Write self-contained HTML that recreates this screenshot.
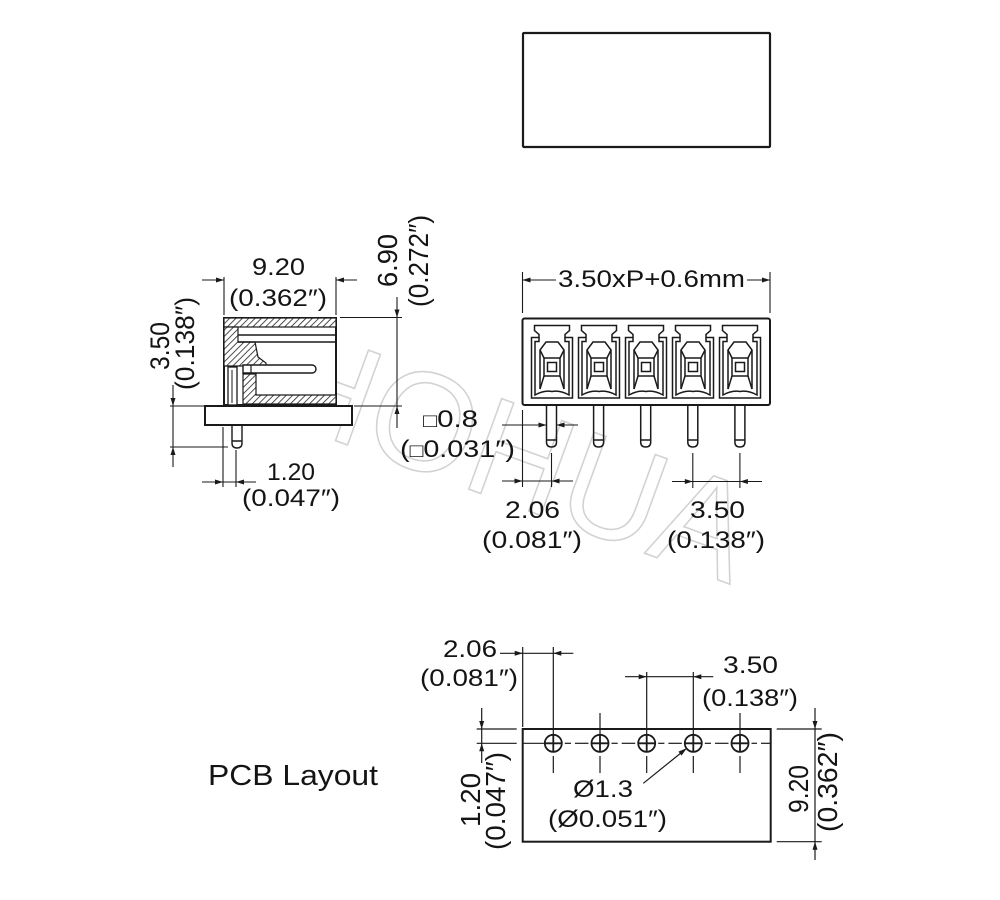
<!DOCTYPE html>
<html>
<head>
<meta charset="utf-8">
<style>
html,body{margin:0;padding:0;background:#fff;}
svg{display:block;}
.t{font-family:"Liberation Sans","DejaVu Sans",Arial,sans-serif;font-size:24px;fill:#141414;}
</style>
</head>
<body>
<svg width="1000" height="900" viewBox="0 0 1000 900" xmlns="http://www.w3.org/2000/svg">
<defs>
  <pattern id="hat" width="4.5" height="4.5" patternUnits="userSpaceOnUse" patternTransform="rotate(45)">
    <rect width="4.5" height="4.5" fill="#fff"/>
    <line x1="0" y1="0" x2="0" y2="4.5" stroke="#222" stroke-width="1.6"/>
  </pattern>
  <g id="cell" fill="none" stroke="#1a1a1a" stroke-width="1.5">
    <path d="M-20.5,398 L-20.5,337.5 L-13,337.5 L-13,334.5 L-17.5,330.5 L-17.5,325.5 L17.5,325.5 L17.5,330.5 L13,334.5 L13,337.5 L20.5,337.5 L20.5,398 Z"/>
    <path d="M-13,337.5 L-13,341.5 L-17,341.5 L-17,395 Q-8,390 0,391.5 Q8,390 17,395 L17,341.5 L13,341.5 L13,337.5"/>
    <path d="M-12,389 L-12,350 L-6,342 L6,342 L12,350 L12,389"/>
    <rect x="-8" y="358" width="16" height="18"/>
    <rect x="-4.5" y="362.5" width="9" height="9"/>
    <path d="M-12,350 L-8,358 M12,350 L8,358 M-12,389 L-8,376 M12,389 L8,376"/>
  </g>
  <path id="pin" d="M-5,405 L-5,442 Q-5,447 0,447 Q5,447 5,442 L5,405 M-5,440 L5,440" fill="none" stroke="#1a1a1a" stroke-width="1.5"/>
</defs>

<!-- watermark -->
<text transform="translate(265,415) rotate(20)" x="0" y="0" textLength="495" lengthAdjust="spacingAndGlyphs"
 style="font-family:'Liberation Sans',sans-serif;font-size:140px;fill:none;stroke:#d2d2d2;stroke-width:1.6;">HOHUA</text>

<!-- top rectangle -->
<rect x="523" y="33" width="247" height="114" fill="none" stroke="#1a1a1a" stroke-width="2.2" rx="1"/>

<!-- ================= SIDE VIEW ================= -->
<g stroke="#1a1a1a" fill="none">
  <rect x="205" y="406" width="147" height="19" stroke-width="2" fill="#fff"/>
  <rect x="224" y="318" width="112" height="87" stroke-width="2" fill="#fff"/>
  <rect x="224" y="318" width="112" height="9" fill="url(#hat)" stroke-width="1.2"/>
  <polygon points="224,327 238,327 238,342 255,342 258,357 266,363 266,366 224,366" fill="url(#hat)" stroke-width="1.2"/>
  <polygon points="243,374 256,374 256,395 336,395 336,404 243,404" fill="url(#hat)" stroke-width="1.2"/>
  <line x1="238" y1="335" x2="336" y2="335" stroke-width="1.4"/>
  <line x1="238" y1="342" x2="336" y2="342" stroke-width="1.4"/>
  <path d="M243,365 L312,365 A4,4 0 0 1 312,373 L243,373 Z" fill="#fff" stroke-width="1.4"/>
  <line x1="251" y1="365" x2="251" y2="373" stroke-width="1.2"/>
  <rect x="228" y="367" width="9" height="38" fill="#fff" stroke-width="1.3"/>
  <line x1="232" y1="370" x2="232" y2="403" stroke-width="1"/>
  <path d="M232,425 L232,443 Q232,448 237,448 Q242,448 242,443 L242,425 M232,441 L242,441" stroke-width="1.4"/>

  <g stroke-width="1.1">
    <line x1="224" y1="277" x2="224" y2="315"/>
    <line x1="336" y1="277" x2="336" y2="315"/>
    <line x1="202" y1="280" x2="224" y2="280"/>
    <line x1="336" y1="280" x2="357" y2="280"/>
    <line x1="340" y1="317.5" x2="402" y2="317.5"/>
    <line x1="354" y1="406" x2="402" y2="406"/>
    <line x1="397" y1="297" x2="397" y2="428"/>
    <line x1="173" y1="385" x2="173" y2="467"/>
    <line x1="170" y1="406" x2="205" y2="406"/>
    <line x1="170" y1="447" x2="228" y2="447"/>
    <line x1="223" y1="427" x2="223" y2="487"/>
    <line x1="236" y1="450" x2="236" y2="487"/>
    <line x1="202" y1="482" x2="256" y2="482"/>
  </g>
</g>
<g fill="#1a1a1a">
  <polygon points="224,280 216,277.5 216,282.5"/>
  <polygon points="336,280 344,277.5 344,282.5"/>
  <polygon points="397,317.5 394.5,309.5 399.5,309.5"/>
  <polygon points="397,406 394.5,414 399.5,414"/>
  <polygon points="173,406 170.5,398 175.5,398"/>
  <polygon points="173,447 170.5,455 175.5,455"/>
  <polygon points="223,482 215,479.5 215,484.5"/>
  <polygon points="236,482 244,479.5 244,484.5"/>
</g>
<text class="t" x="252" y="275" textLength="53" lengthAdjust="spacingAndGlyphs">9.20</text>
<text class="t" x="229" y="306" textLength="98" lengthAdjust="spacingAndGlyphs">(0.362″)</text>
<text class="t" x="267" y="480" textLength="48" lengthAdjust="spacingAndGlyphs">1.20</text>
<text class="t" x="242" y="506" textLength="98" lengthAdjust="spacingAndGlyphs">(0.047″)</text>
<text class="t" transform="translate(397,260.5) scale(1.14,1) rotate(-90)" x="-26.5" y="0" textLength="53" lengthAdjust="spacingAndGlyphs">6.90</text>
<text class="t" transform="translate(428,261) scale(1.14,1) rotate(-90)" x="-46" y="0" textLength="92" lengthAdjust="spacingAndGlyphs">(0.272″)</text>
<text class="t" transform="translate(169,346) scale(1.1,1) rotate(-90)" x="-24" y="0" textLength="48" lengthAdjust="spacingAndGlyphs">3.50</text>
<text class="t" transform="translate(194,343.5) scale(1.1,1) rotate(-90)" x="-46.5" y="0" textLength="93" lengthAdjust="spacingAndGlyphs">(0.138″)</text>

<!-- ================= FRONT VIEW ================= -->
<rect x="522.5" y="318.5" width="247.5" height="86.5" rx="2" fill="none" stroke="#1a1a1a" stroke-width="2"/>
<use href="#cell" transform="translate(552,0)"/>
<use href="#cell" transform="translate(599,0)"/>
<use href="#cell" transform="translate(646,0)"/>
<use href="#cell" transform="translate(693,0)"/>
<use href="#cell" transform="translate(740,0)"/>
<use href="#pin" transform="translate(551.5,0)"/>
<use href="#pin" transform="translate(598.6,0)"/>
<use href="#pin" transform="translate(645.7,0)"/>
<use href="#pin" transform="translate(692.8,0)"/>
<use href="#pin" transform="translate(739.9,0)"/>
<g stroke="#1a1a1a" stroke-width="1.1" fill="none">
  <line x1="522.5" y1="272" x2="522.5" y2="313"/>
  <line x1="770" y1="272" x2="770" y2="313"/>
  <line x1="522.5" y1="280" x2="556" y2="280"/>
  <line x1="747" y1="280" x2="770" y2="280"/>
  <line x1="502" y1="425" x2="546.5" y2="425"/>
  <line x1="556.5" y1="425" x2="578" y2="425"/>
  <line x1="522.5" y1="410" x2="522.5" y2="487"/>
  <line x1="551.5" y1="453" x2="551.5" y2="487"/>
  <line x1="502" y1="481" x2="573" y2="481"/>
  <line x1="692.8" y1="453" x2="692.8" y2="488"/>
  <line x1="739.9" y1="453" x2="739.9" y2="488"/>
  <line x1="672" y1="481.5" x2="762" y2="481.5"/>
</g>
<g fill="#1a1a1a">
  <polygon points="522.5,280 530.5,277.5 530.5,282.5"/>
  <polygon points="770,280 762,277.5 762,282.5"/>
  <polygon points="546.5,425 538.5,422.5 538.5,427.5"/>
  <polygon points="556.5,425 564.5,422.5 564.5,427.5"/>
  <polygon points="522.5,481 514.5,478.5 514.5,483.5"/>
  <polygon points="551.5,481 559.5,478.5 559.5,483.5"/>
  <polygon points="692.8,481.5 684.8,479 684.8,484"/>
  <polygon points="739.9,481.5 747.9,479 747.9,484"/>
</g>
<text class="t" x="558" y="287" textLength="187" lengthAdjust="spacingAndGlyphs">3.50xP+0.6mm</text>
<text class="t" x="423" y="427" textLength="55" lengthAdjust="spacingAndGlyphs"><tspan font-size="19">□</tspan>0.8</text>
<text class="t" x="400" y="457" textLength="115" lengthAdjust="spacingAndGlyphs">(<tspan font-size="19">□</tspan>0.031″)</text>
<text class="t" x="505" y="518" textLength="55" lengthAdjust="spacingAndGlyphs">2.06</text>
<text class="t" x="482" y="548" textLength="100" lengthAdjust="spacingAndGlyphs">(0.081″)</text>
<text class="t" x="690" y="518" textLength="55" lengthAdjust="spacingAndGlyphs">3.50</text>
<text class="t" x="667" y="548" textLength="98" lengthAdjust="spacingAndGlyphs">(0.138″)</text>

<!-- ================= PCB LAYOUT ================= -->
<text class="t" x="208" y="785" style="font-size:29px" textLength="170" lengthAdjust="spacingAndGlyphs">PCB Layout</text>
<rect x="522.7" y="729" width="248" height="112.7" fill="none" stroke="#1a1a1a" stroke-width="2"/>
<g stroke="#1a1a1a" stroke-width="1.2" fill="none">
  <line x1="522.7" y1="743.3" x2="544.8" y2="743.3"/>
  <line x1="564.8" y1="743.3" x2="571" y2="743.3"/><line x1="575" y1="743.3" x2="588.5" y2="743.3"/>
  <line x1="611.5" y1="743.3" x2="617.7" y2="743.3"/><line x1="621.7" y1="743.3" x2="635.2" y2="743.3"/>
  <line x1="658.2" y1="743.3" x2="664.4" y2="743.3"/><line x1="668.4" y1="743.3" x2="681.8" y2="743.3"/>
  <line x1="704.8" y1="743.3" x2="711" y2="743.3"/><line x1="715" y1="743.3" x2="728.5" y2="743.3"/>
  <line x1="751.5" y1="743.3" x2="757" y2="743.3"/><line x1="761" y1="743.3" x2="770.7" y2="743.3"/>
  <line x1="553.3" y1="647" x2="553.3" y2="734.8"/><line x1="553.3" y1="756" x2="553.3" y2="773"/>
  <line x1="600" y1="713" x2="600" y2="734.8"/><line x1="600" y1="756" x2="600" y2="773"/>
  <line x1="646.7" y1="672" x2="646.7" y2="734.8"/><line x1="646.7" y1="756" x2="646.7" y2="773"/>
  <line x1="693.3" y1="672" x2="693.3" y2="734.8"/><line x1="693.3" y1="756" x2="693.3" y2="773"/>
  <line x1="740" y1="713" x2="740" y2="734.8"/><line x1="740" y1="756" x2="740" y2="773"/>
  <g stroke-width="1.8">
    <circle cx="553.3" cy="743.3" r="8.5"/><path d="M544.8,743.3 H561.8 M553.3,734.8 V751.8"/>
    <circle cx="600" cy="743.3" r="8.5"/><path d="M591.5,743.3 H608.5 M600,734.8 V751.8"/>
    <circle cx="646.7" cy="743.3" r="8.5"/><path d="M638.2,743.3 H655.2 M646.7,734.8 V751.8"/>
    <circle cx="693.3" cy="743.3" r="8.5"/><path d="M684.8,743.3 H701.8 M693.3,734.8 V751.8"/>
    <circle cx="740" cy="743.3" r="8.5"/><path d="M731.5,743.3 H748.5 M740,734.8 V751.8"/>
  </g>
  <line x1="522.7" y1="647" x2="522.7" y2="727"/>
  <line x1="500" y1="653.3" x2="573.3" y2="653.3"/>
  <line x1="625" y1="676.7" x2="713.3" y2="676.7"/>
  <line x1="481.7" y1="708" x2="481.7" y2="763"/>
  <line x1="476.7" y1="729" x2="516.7" y2="729"/>
  <line x1="476.7" y1="743.3" x2="516.7" y2="743.3"/>
  <line x1="815" y1="708" x2="815" y2="860"/>
  <line x1="776.7" y1="729" x2="821.7" y2="729"/>
  <line x1="776.7" y1="841.7" x2="821.7" y2="841.7"/>
  <line x1="643.3" y1="783.3" x2="684" y2="750.5"/>
</g>
<g fill="#1a1a1a">
  <polygon points="522.7,653.3 514.7,650.8 514.7,655.8"/>
  <polygon points="553.3,653.3 561.3,650.8 561.3,655.8"/>
  <polygon points="646.7,676.7 638.7,674.2 638.7,679.2"/>
  <polygon points="693.3,676.7 701.3,674.2 701.3,679.2"/>
  <polygon points="481.7,729 479.2,721 484.2,721"/>
  <polygon points="481.7,743.3 479.2,751.3 484.2,751.3"/>
  <polygon points="815,729 812.5,721 817.5,721"/>
  <polygon points="815,841.7 812.5,849.7 817.5,849.7"/>
  <polygon points="687,748 681.55,755.55 678.45,751.65"/>
</g>
<text class="t" x="443" y="657" textLength="54" lengthAdjust="spacingAndGlyphs">2.06</text>
<text class="t" x="420" y="686" textLength="98" lengthAdjust="spacingAndGlyphs">(0.081″)</text>
<text class="t" x="723" y="673" textLength="55" lengthAdjust="spacingAndGlyphs">3.50</text>
<text class="t" x="702" y="706" textLength="96" lengthAdjust="spacingAndGlyphs">(0.138″)</text>
<text class="t" x="573" y="797" textLength="60" lengthAdjust="spacingAndGlyphs">Ø1.3</text>
<text class="t" x="548" y="827" textLength="119" lengthAdjust="spacingAndGlyphs">(Ø0.051″)</text>
<text class="t" transform="translate(480,800) scale(1.14,1) rotate(-90)" x="-27" y="0" textLength="54" lengthAdjust="spacingAndGlyphs">1.20</text>
<text class="t" transform="translate(505,801) scale(1.14,1) rotate(-90)" x="-49" y="0" textLength="98" lengthAdjust="spacingAndGlyphs">(0.047″)</text>
<text class="t" transform="translate(808,789) scale(1.14,1) rotate(-90)" x="-24" y="0" textLength="48" lengthAdjust="spacingAndGlyphs">9.20</text>
<text class="t" transform="translate(837,782) scale(1.14,1) rotate(-90)" x="-50" y="0" textLength="100" lengthAdjust="spacingAndGlyphs">(0.362″)</text>
</svg>
</body>
</html>
